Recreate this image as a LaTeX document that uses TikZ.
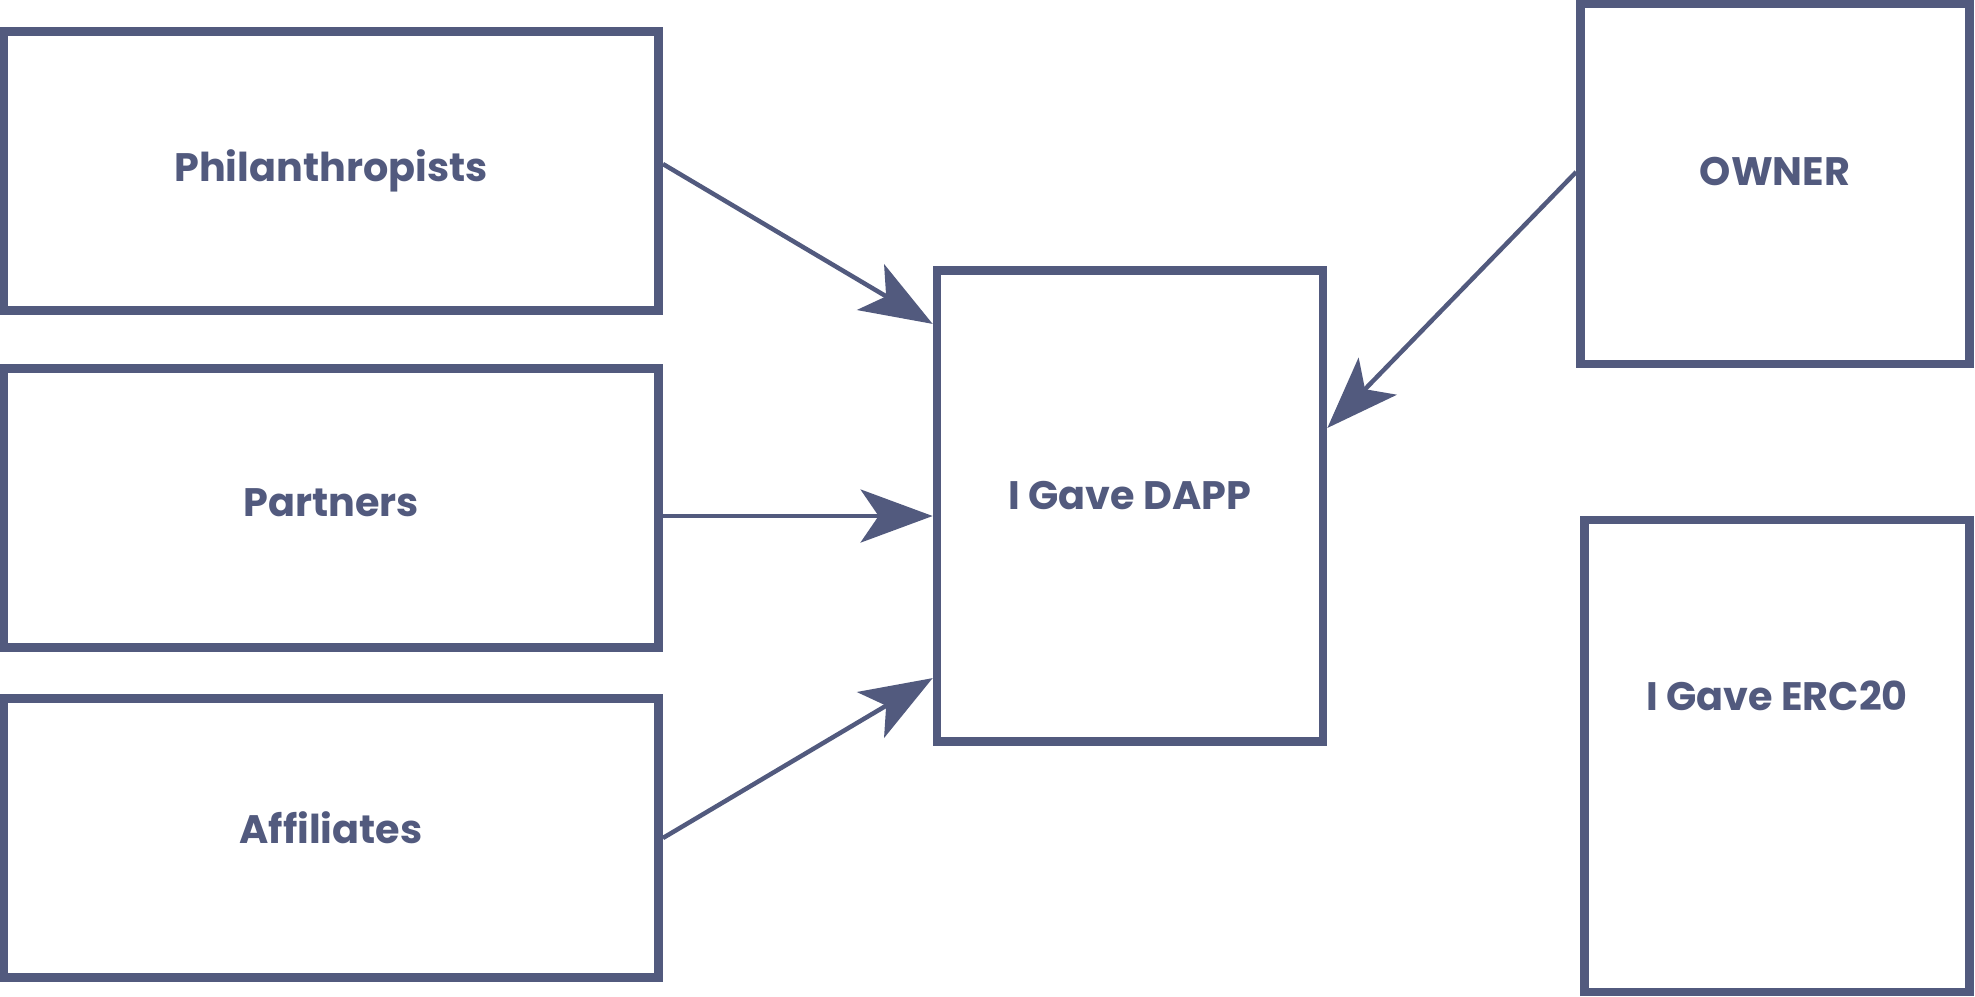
\documentclass[tikz,border=0pt]{standalone}
\usepackage{fontspec}
\setmainfont{Poppins}
\usetikzlibrary{arrows.meta}
\definecolor{slateblue}{RGB}{82,90,126}

\begin{document}
\begin{tikzpicture}
        [   x=0.01cm, y=-0.01cm,
            BoxNode/.style=
            {rectangle, draw=slateblue, fill=white,
            line width=0.085cm, text=slateblue,
            font=\fontsize{11.3}{13}\selectfont\bfseries},
            LeftNode/.style=
            {BoxNode, minimum width=6.55cm, minimum height=2.79cm},
            FlowArrow/.style=
            {draw=slateblue, line width=0.045cm,
            -{Stealth[length=0.72cm, width=0.53cm, inset=0.18cm, fill=slateblue]}}
        ]
            \useasboundingbox (0,0) rectangle (1975,996);

            \foreach \name/\txt/\y/\r in {phil/Philanthropists/171/0.1, partners/Partners/508/0.1, affil/Affiliates/838/0.2}
                \node[LeftNode] (\name) at (331,\y)
                    {\raisebox{\r cm}{\txt}};

            \node[BoxNode, minimum width=3.86cm, minimum height=4.71cm] (dapp) at (1130,506)
                {\raisebox{0.22cm}{I Gave DAPP}};
            \node[BoxNode, minimum width=3.89cm, minimum height=3.6cm] (owner) at (1775,184)
                {\raisebox{0.26cm}{OWNER}};
            \node[BoxNode, minimum width=3.85cm, minimum height=4.72cm] (erc) at (1777,756)
                {\raisebox{1.2cm}{I Gave ERC20}};

            \draw[FlowArrow] ([yshift=0.07cm]phil.east) -- ([yshift=1.82cm]dapp.west);
            \draw[FlowArrow] ([yshift=-0.08cm]partners.east) -- ([yshift=-0.08cm]partners.east -| dapp.west);
            \draw[FlowArrow] (affil.east) -- ([yshift=-1.72cm]dapp.west);
            \draw[FlowArrow] ([yshift=0.12cm]owner.west) -- ([yshift=0.78cm]dapp.east);
    \end{tikzpicture}
\end{document}
